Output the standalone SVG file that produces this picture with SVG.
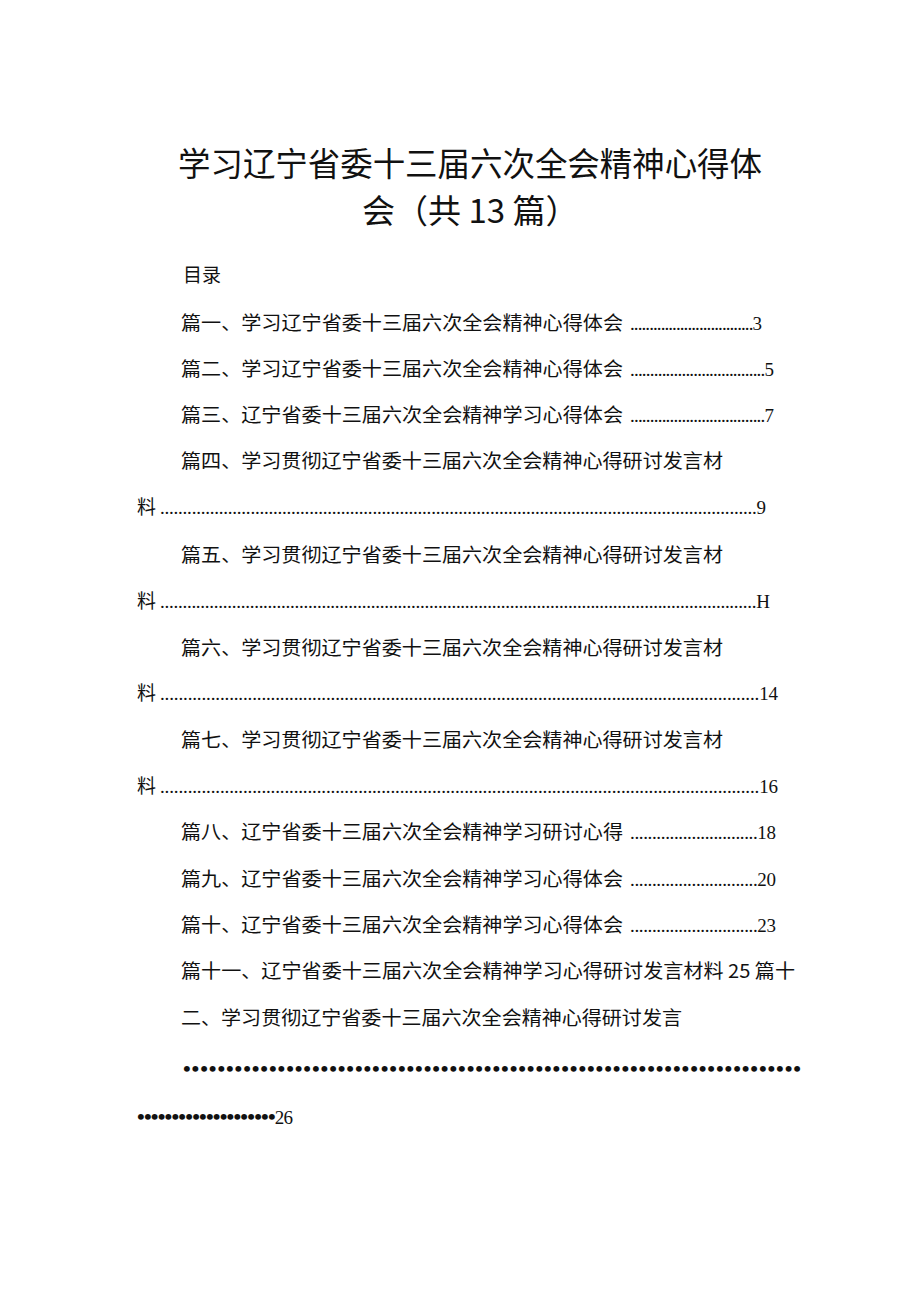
<svg xmlns="http://www.w3.org/2000/svg" width="920" height="1301" viewBox="0 0 920 1301">
<style>
.t{font-family:"Noto Sans CJK SC","Noto Sans",sans-serif;fill:#111}
.h{font-size:33px}
.c{font-size:19px}
.d{font-family:"Liberation Serif",serif;font-size:19px;fill:#111}
.b{font-family:"Liberation Serif",serif;font-size:22px;font-weight:bold;fill:#111}
</style>
<rect width="920" height="1301" fill="#fff"/>
<text class="t h" x="178" y="176" textLength="584" lengthAdjust="spacingAndGlyphs">学习辽宁省委十三届六次全会精神心得体</text>
<text class="t h" x="362" y="223">会（共 13 篇）</text>
<text class="t c" x="183" y="282" font-size="17">目录</text>
<g class="t c">
<text x="181" y="330" textLength="442" lengthAdjust="spacingAndGlyphs">篇一、学习辽宁省委十三届六次全会精神心得体会</text>
<text x="181" y="376" textLength="442" lengthAdjust="spacingAndGlyphs">篇二、学习辽宁省委十三届六次全会精神心得体会</text>
<text x="181" y="422" textLength="442" lengthAdjust="spacingAndGlyphs">篇三、辽宁省委十三届六次全会精神学习心得体会</text>
<text x="181" y="468" textLength="542" lengthAdjust="spacingAndGlyphs">篇四、学习贯彻辽宁省委十三届六次全会精神心得研讨发言材</text>
<text x="137" y="514">料</text>
<text x="181" y="562" textLength="542" lengthAdjust="spacingAndGlyphs">篇五、学习贯彻辽宁省委十三届六次全会精神心得研讨发言材</text>
<text x="137" y="608">料</text>
<text x="181" y="655" textLength="542" lengthAdjust="spacingAndGlyphs">篇六、学习贯彻辽宁省委十三届六次全会精神心得研讨发言材</text>
<text x="137" y="700">料</text>
<text x="181" y="747" textLength="542" lengthAdjust="spacingAndGlyphs">篇七、学习贯彻辽宁省委十三届六次全会精神心得研讨发言材</text>
<text x="137" y="793">料</text>
<text x="181" y="839" textLength="442" lengthAdjust="spacingAndGlyphs">篇八、辽宁省委十三届六次全会精神学习研讨心得</text>
<text x="181" y="886" textLength="442" lengthAdjust="spacingAndGlyphs">篇九、辽宁省委十三届六次全会精神学习心得体会</text>
<text x="181" y="932" textLength="442" lengthAdjust="spacingAndGlyphs">篇十、辽宁省委十三届六次全会精神学习心得体会</text>
<text x="181" y="978" textLength="614" lengthAdjust="spacingAndGlyphs">篇十一、辽宁省委十三届六次全会精神学习心得研讨发言材料 25 篇十</text>
<text x="181" y="1025" textLength="501" lengthAdjust="spacingAndGlyphs">二、学习贯彻辽宁省委十三届六次全会精神心得研讨发言</text>
</g>
<g class="d">
<text x="630" y="330" textLength="132" lengthAdjust="spacing">................................3</text>
<text x="630" y="376" textLength="144" lengthAdjust="spacing">..................................5</text>
<text x="630" y="422" textLength="144" lengthAdjust="spacing">..................................7</text>
<text x="160" y="514" textLength="606" lengthAdjust="spacing">....................................................................................................................................9</text>
<text x="160" y="608" textLength="610" lengthAdjust="spacing">.....................................................................................................................................H</text>
<text x="160" y="700" textLength="618" lengthAdjust="spacing">..................................................................................................................................14</text>
<text x="160" y="793" textLength="618" lengthAdjust="spacing">..................................................................................................................................16</text>
<text x="630" y="839" textLength="146" lengthAdjust="spacing">.............................18</text>
<text x="630" y="886" textLength="146" lengthAdjust="spacing">.............................20</text>
<text x="630" y="932" textLength="146" lengthAdjust="spacing">.............................23</text>
</g>
<text class="b" x="183" y="1076" textLength="618" lengthAdjust="spacing">••••••••••••••••••••••••••••••••••••••••••••••••••••••••••••••••••••••••</text>
<text class="b" x="137" y="1124" textLength="156" lengthAdjust="spacing">••••••••••••••••••••<tspan font-weight="normal" font-size="19">26</tspan></text>
</svg>
